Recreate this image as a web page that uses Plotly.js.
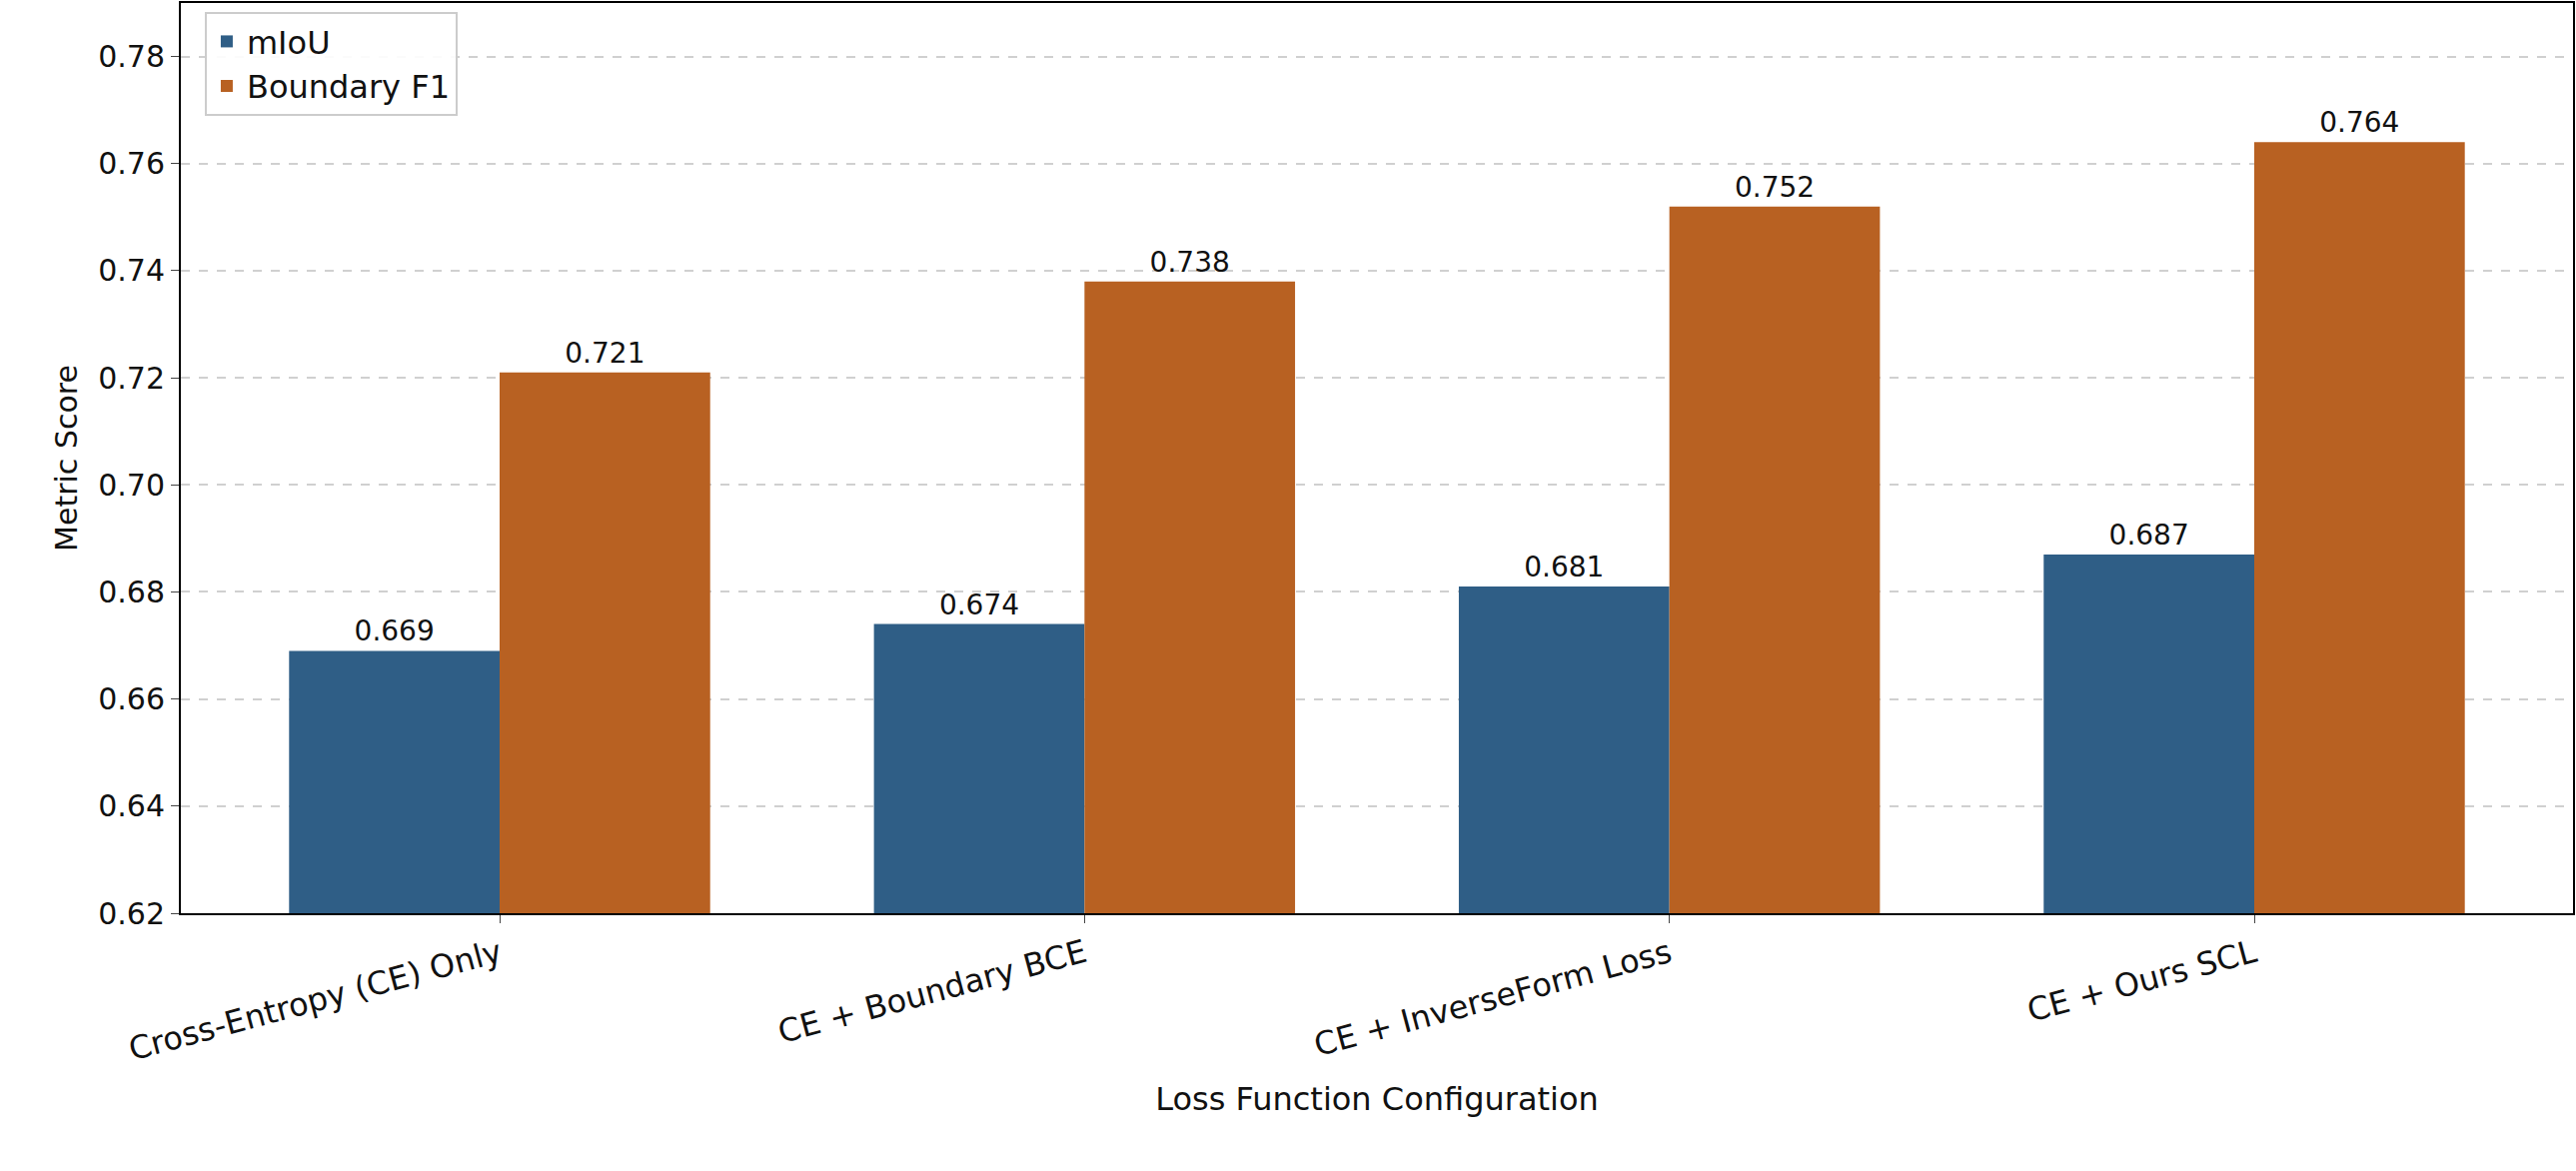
<!DOCTYPE html>
<html><head><script src="https://cdn.plot.ly/plotly-3.0.1.min.js"></script>
<style>body{margin:0}</style></head><body>
<div id="c" style="width:2578px;height:1172px"></div>
<script>
const categories = ["Cross-Entropy (CE) Only","CE + Boundary BCE","CE + InverseForm Loss","CE + Ours SCL"];
const miou = [0.669,0.674,0.681,0.687];
const bf1 = [0.721,0.738,0.752,0.764];
const yTicks = [0.62,0.64,0.66,0.68,0.70,0.72,0.74,0.76,0.78];
const font = "DejaVu Sans, sans-serif";
const mk = (name, y, color) => ({
  type:"bar", name, x:categories, y, marker:{color},
  text:y.map(v=>v.toFixed(3)), textposition:"outside", cliponaxis:false,
  textfont:{family:font,size:28,color:"#111"}
});
Plotly.newPlot("c",[mk("mIoU",miou,"#2f5e86"),mk("Boundary F1",bf1,"#b86122")],{
  width:2578,height:1172,margin:{l:181,r:3,t:3,b:258},
  paper_bgcolor:"white",plot_bgcolor:"white",
  barmode:"group",bargap:0.28,bargroupgap:0,
  font:{family:font,size:30,color:"#111"},
  xaxis:{range:[-0.545,3.545],tickangle:-15,showline:true,mirror:true,linecolor:"#000",linewidth:2,
    ticks:"outside",ticklen:8,tickfont:{size:32},
    title:{text:"Loss Function Configuration",font:{size:32},standoff:20}},
  yaxis:{range:[0.62,0.79],tickvals:yTicks,ticktext:yTicks.map(v=>v.toFixed(2)),showline:true,mirror:true,
    linecolor:"#000",linewidth:2,ticks:"outside",ticklen:8,tickfont:{size:30},
    gridcolor:"#d0d0d0",griddash:"dash",gridwidth:1.5,zeroline:false,
    title:{text:"Metric Score",font:{size:30},standoff:12}},
  legend:{x:0.01,y:0.99,xanchor:"left",yanchor:"top",bordercolor:"#ccc",borderwidth:2,
    bgcolor:"rgba(255,255,255,0.9)",font:{size:32}}
},{displayModeBar:false});
</script></body></html>
